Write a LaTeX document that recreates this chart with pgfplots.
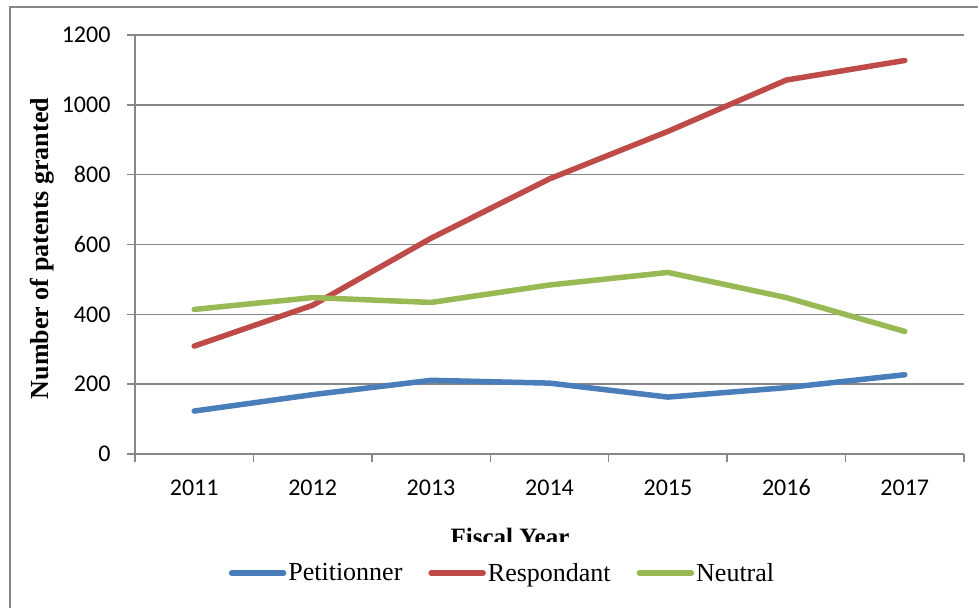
\documentclass[border=0pt]{standalone}
\usepackage{fontspec}
\setmainfont{Liberation Serif}
\newfontfamily\carlito{Carlito}
\usepackage{pgfplots}
\pgfplotsset{compat=1.18}
\definecolor{gridgray}{HTML}{878787}
\definecolor{cblue}{HTML}{4A7EBB}
\definecolor{cred}{HTML}{BE4B48}
\definecolor{cgreen}{HTML}{98B954}
\begin{document}
\begin{tikzpicture}[x=1pt,y=1pt]
\path[use as bounding box] (0,0) rectangle (978,608);
\draw[gridgray, line width=1.5pt] (10,0) -- (10,601) -- (978,601);
\begin{axis}[
  at={(135pt,154pt)}, anchor=south west,
  scale only axis, width=829pt, height=419pt,
  xmin=0.5, xmax=7.5, ymin=0, ymax=1200,
  axis x line*=bottom, axis y line*=left,
  axis line style={draw=gridgray, line width=1.5pt, -},
  xtick={1,...,7},
  xticklabels={2011,2012,2013,2014,2015,2016,2017},
  minor xtick={0.5,1.5,...,7.5},
  major x tick style={draw=none},
  minor x tick style={draw=gridgray, line width=1.5pt},
  minor tick length=8pt,
  ytick={0,200,...,1200},
  major y tick style={draw=gridgray, line width=1.5pt},
  major tick length=8pt,
  tick align=outside,
  ymajorgrids,
  major grid style={draw=gridgray, line width=1.4pt},
  /pgf/number format/assume math mode=true,
  /pgf/number format/1000 sep={},
  ticklabel style={font=\carlito\fontsize{24}{24}\selectfont, text=black},
  yticklabel style={anchor=east, xshift=-13pt},
  xticklabel style={anchor=north, yshift=-14pt},
  legend columns=3,
  legend style={at={(0.4433,-0.284)}, anchor=center, draw=none, fill=none,
    font=\fontsize{26}{26}\selectfont, inner sep=0pt,
    /tikz/every even column/.append style={column sep=24pt}},
  legend image code/.code={\draw[#1, line width=5.5pt, line cap=round] (0pt,0pt) -- (52pt,0pt);},
  every axis plot/.append style={line width=5.5pt, line join=round, line cap=round},
]
\addplot[cblue] coordinates {(1,123) (2,170) (3,211) (4,203) (5,163) (6,190) (7,227)};
\addlegendentry{Petitionner}
\addplot[cred] coordinates {(1,309) (2,426) (3,618) (4,788) (5,924) (6,1071) (7,1127)};
\addlegendentry{Respondant}
\addplot[cgreen] coordinates {(1,414) (2,448) (3,434) (4,484) (5,520) (6,448) (7,351)};
\addlegendentry{Neutral}
\end{axis}
\node[rotate=90, font=\bfseries\fontsize{26}{26}\selectfont, anchor=center] at (42,359.5) {Number of patents granted};
\begin{scope}
\clip (0,66) rectangle (978,608);
\node[font=\bfseries\fontsize{25}{25}\selectfont, anchor=base] at (510,62) {Fiscal Year};
\end{scope}
\end{tikzpicture}
\end{document}
